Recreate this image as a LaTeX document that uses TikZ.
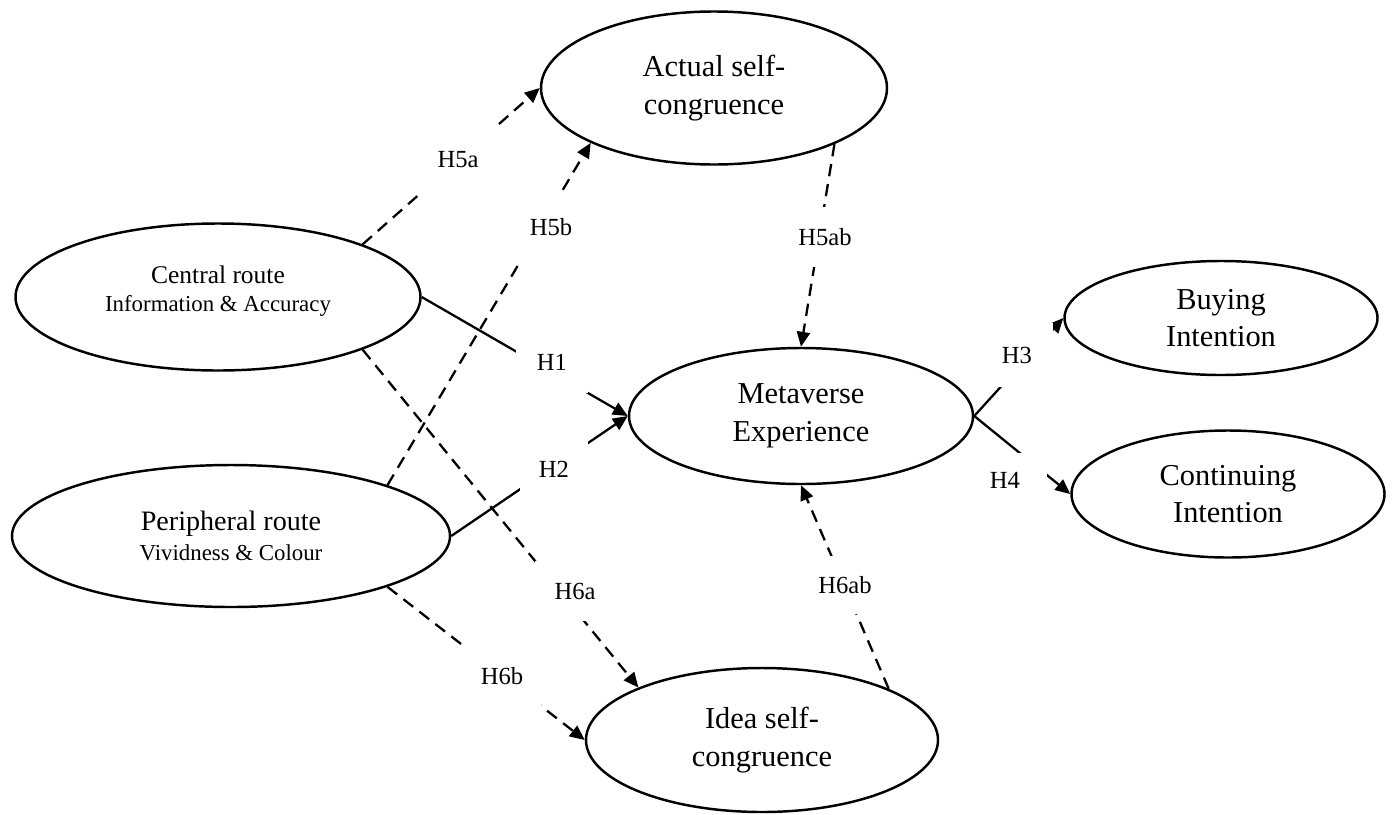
\documentclass[tikz,border=0pt]{standalone}
\usepackage{fontspec}
\setmainfont{Liberation Serif}
\usetikzlibrary{arrows.meta,shapes.geometric}
\tikzset{
  >={Triangle[length=8.5pt,width=7.5pt]},
  construct/.style={ellipse,draw,line width=1.4pt,inner sep=0pt,align=center,
    font=\fontsize{17.3}{21.4}\selectfont},
  hyp/.style={fill=white,inner sep=0pt,font=\fontsize{14}{16}\selectfont},
  effect/.style={->,line width=1.3pt},
  mediated/.style={effect,dash pattern=on 7pt off 4.5pt},
}
\newcommand{\subline}[2]{\\[#1]{\fontsize{13}{15}\selectfont #2}}

\begin{document}
\begin{tikzpicture}
  \useasboundingbox (0,0) rectangle (27.84,-16.28);
  % constructs
  \node[construct,minimum width=8.10cm,minimum height=2.94cm] (cen) at (4.36,-5.94)
    {\fontsize{14.5}{16.5}\selectfont Central route\subline{-5pt}{Information \& Accuracy}\\[-12pt]};
  \node[construct,minimum width=8.76cm,minimum height=2.84cm] (per) at (4.62,-10.72)
    {\fontsize{16}{16.7}\selectfont Peripheral route\subline{-4pt}{Vividness \& Colour}};
  \node[construct,minimum width=6.92cm,minimum height=3.06cm] (act) at (14.28,-1.76) {Actual self-\\congruence};
  \node[construct,minimum width=6.88cm,minimum height=2.72cm] (meta) at (16.02,-8.32) {Metaverse\\Experience};
  \node[construct,minimum width=7.04cm,minimum height=2.88cm] (idea) at (15.24,-14.80) {Idea self-\\congruence};
  \node[construct,minimum width=6.26cm,minimum height=2.28cm] (buy) at (24.42,-6.36) {Buying\\Intention};
  \node[construct,minimum width=6.26cm,minimum height=2.54cm] (cont) at (24.56,-9.88) {Continuing\\Intention};

  % direct paths
  \draw[effect] (cen.east) -- (meta.west);
  \draw[effect] (per.east) -- (meta.west);
  \draw[effect] (meta.east) -- (buy.west);
  \draw[effect] (meta.east) -- (cont.west);
  % mediated paths
  \draw[mediated] (cen.20) -- (act.west);
  \draw[mediated] (per.18) -- (act.204);
  \draw[mediated] (act.-25) -- (meta.north);
  \draw[mediated] (cen.-20) -- (idea.157);
  \draw[mediated] (per.-18) -- (idea.west);
  \draw[mediated] (idea.22) -- (meta.south);

  % hypothesis labels
  \node[hyp,minimum width=1.44cm,minimum height=1.24cm] (h1) at (11.04,-7.24) {H1};
  \node[hyp,minimum width=1.36cm,minimum height=1.12cm] (h2) at (11.08,-9.38) {H2};
  \node[hyp,minimum width=1.44cm,minimum height=1.28cm] (h3) at (20.34,-7.10) {H3};
  \node[hyp,minimum width=1.68cm,minimum height=1.08cm] (h4) at (20.10,-9.60) {H4};
  \node[hyp,minimum width=1.48cm,minimum height=1.36cm] (h5a) at (9.16,-3.20) {H5a};
  \node[hyp,minimum width=1.36cm,minimum height=1.44cm] (h5b) at (11.02,-4.54) {H5b};
  \node[hyp,minimum width=0.88cm,minimum height=1.20cm] (h5ab) at (16.50,-4.74) {H5ab};
  \node[hyp,minimum width=1.60cm,minimum height=1.20cm] (h6a) at (11.50,-11.82) {H6a};
  \node[hyp,minimum width=1.56cm,minimum height=1.24cm] (h6b) at (10.04,-13.52) {H6b};
  \node[hyp,minimum width=1.08cm,minimum height=1.16cm] (h6ab) at (16.90,-11.70) {H6ab};
\end{tikzpicture}
\end{document}
